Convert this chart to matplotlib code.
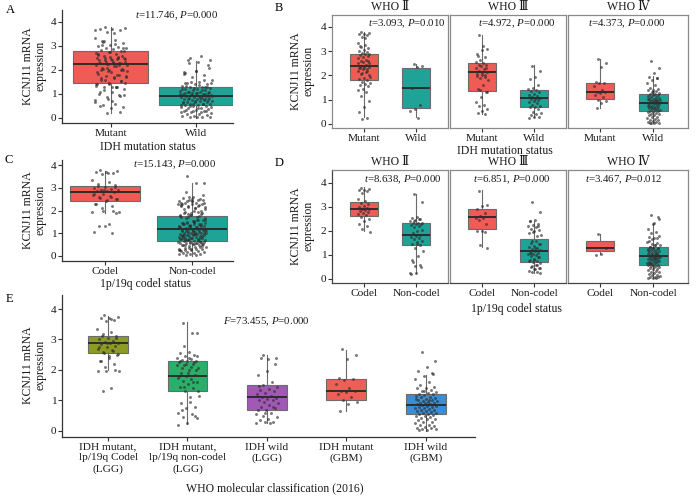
import numpy as np
import matplotlib
matplotlib.use("Agg")
import matplotlib.pyplot as plt

plt.rcParams['font.family'] = ['Liberation Serif', 'DejaVu Serif']
plt.rcParams['mathtext.fontset'] = 'custom'
plt.rcParams['mathtext.rm'] = 'Liberation Serif'
plt.rcParams['mathtext.it'] = 'Liberation Serif:italic'

# ---------------- data (KCNJ11 mRNA expression) ----------------
idh_cats = ["Mutant", "Wild"]
codel_cats = ["Codel", "Non-codel"]
grades = ["WHO \u2161", "WHO \u2162", "WHO \u2163"]
e_cats = ["IDH mutant,\nlp/19q Codel\n(LGG)", "IDH mutant,\nlp/19q non-codel\n(LGG)",
          "IDH wild\n(LGG)", "IDH mutant\n(GBM)", "IDH wild\n(GBM)"]

g2_codel = [3.8, 3.75, 3.72, 3.7, 3.65, 3.6, 3.35, 3.25, 3.18, 3.12, 3.05, 3.0, 2.95, 2.92,
            2.9, 2.88, 2.85, 2.8, 2.75, 2.7, 2.65, 2.6, 2.5, 2.4, 2.3, 2.2, 2.1, 1.95]
g2_mut_noncodel = [3.55, 3.2, 2.6, 2.55, 2.5, 2.45, 2.4, 2.35, 2.32, 2.3, 2.28, 2.25, 2.2, 2.15,
                   2.05, 2.0, 1.9, 1.85, 1.8, 1.75, 1.7, 1.65, 1.6, 1.55, 1.45, 1.4, 1.3, 1.15,
                   0.95, 0.7, 0.5, 0.25, 0.2]
g2_wild = [2.48, 2.4, 2.35, 1.47, 0.8, 0.6, 0.55, 0.25]
g3_codel = [3.68, 3.1, 3.05, 2.9, 2.75, 2.62, 2.55, 2.52, 2.45, 2.3, 2.0, 1.98, 1.95, 1.4, 1.3]
g3_mut_noncodel = [3.2, 2.8, 2.45, 2.4, 2.3, 2.25, 2.2, 2.15, 2.1, 2.05, 2.0, 1.9, 1.8, 1.6,
                   1.45, 1.3, 1.1, 0.9, 0.8, 0.75, 0.6, 0.55, 0.45, 0.42]
g3_wild = [2.4, 2.2, 1.95, 1.85, 1.6, 1.5, 1.45, 1.38, 1.35, 1.3, 1.25, 1.2, 1.15, 1.1, 1.08,
           1.05, 1.02, 1.0, 0.95, 0.9, 0.85, 0.8, 0.75, 0.7, 0.68, 0.6, 0.5, 0.45, 0.4, 0.35,
           0.3, 0.28, 0.25]
g4_mut = [2.68, 2.5, 2.35, 1.75, 1.7, 1.68, 1.55, 1.4, 1.32, 1.3, 1.28, 1.2, 1.1, 1.0, 0.95,
          0.88, 0.65]
g4_codel = [1.88, 1.3, 1.05, 1.0]
g4_wild = [2.6, 2.3, 2.1, 1.95, 1.9, 1.8, 1.7, 1.6, 1.5, 1.45, 1.42, 1.4, 1.35, 1.3, 1.28, 1.25,
           1.22, 1.2, 1.18, 1.15, 1.12, 1.1, 1.08, 1.05, 1.02, 1.0, 0.98, 0.97, 0.95, 0.93, 0.92,
           0.9, 0.88, 0.87, 0.85, 0.83, 0.82, 0.8, 0.78, 0.76, 0.75, 0.72, 0.7, 0.68, 0.66, 0.65,
           0.62, 0.6, 0.58, 0.57, 0.55, 0.52, 0.5, 0.48, 0.45, 0.42, 0.4, 0.38, 0.35, 0.3, 0.28,
           0.25, 0.2, 0.18, 0.15, 0.12, 0.1, 0.08, 0.06, 0.05, 0.04, 0.03]

# box statistics: [whisker low, Q1, median, Q3, whisker high]
A_box = [[0.20, 1.45, 2.23, 2.79, 3.79], [0.00, 0.55, 0.92, 1.31, 2.37]]
C_box = [[1.89, 2.44, 2.81, 3.10, 3.77], [0.00, 0.65, 1.19, 1.74, 3.23]]
B_box = [[[0.27, 1.81, 2.40, 2.90, 3.79], [0.30, 0.64, 1.47, 2.32, 2.49]],
         [[0.40, 1.37, 2.15, 2.52, 3.66], [0.30, 0.68, 1.08, 1.40, 2.42]],
         [[0.64, 1.01, 1.30, 1.70, 2.66], [0.03, 0.54, 0.85, 1.22, 1.97]]]
D_box = [[[1.99, 2.64, 2.93, 3.19, 3.82], [0.25, 1.40, 1.85, 2.33, 3.54]],
         [[1.32, 2.10, 2.57, 2.92, 3.69], [0.25, 0.69, 1.18, 1.67, 2.40]],
         [[1.04, 1.15, 1.29, 1.60, 1.89], [0.04, 0.57, 0.97, 1.32, 2.33]]]
E_box = [[1.99, 2.56, 2.89, 3.10, 3.76], [0.24, 1.32, 1.79, 2.31, 3.56],
         [0.26, 0.70, 1.11, 1.52, 2.48], [0.64, 1.03, 1.32, 1.71, 2.67],
         [0.00, 0.54, 0.86, 1.22, 1.85]]

A_t, A_p = 11.746, 0.000
C_t, C_p = 15.143, 0.000
B_t, B_p = [3.093, 4.972, 4.373], [0.010, 0.000, 0.000]
D_t, D_p = [8.638, 6.851, 3.467], [0.000, 0.000, 0.012]
E_F, E_p = 73.455, 0.000

# groups assembled from the sub-groups
B_pts = [[g2_codel + g2_mut_noncodel, g2_wild],
         [g3_codel + g3_mut_noncodel, g3_wild],
         [g4_mut, g4_wild + g4_codel]]
D_pts = [[g2_codel, g2_mut_noncodel + g2_wild],
         [g3_codel, g3_mut_noncodel + g3_wild],
         [g4_codel, g4_mut + g4_wild]]
A_pts = [B_pts[0][0] + B_pts[1][0] + B_pts[2][0], B_pts[0][1] + B_pts[1][1] + B_pts[2][1]]
C_pts = [D_pts[0][0] + D_pts[1][0] + D_pts[2][0], D_pts[0][1] + D_pts[1][1] + D_pts[2][1]]
E_pts = [g2_codel + g3_codel, g2_mut_noncodel + g3_mut_noncodel, g2_wild + g3_wild,
         g4_mut, g4_wild + g4_codel]

RED, TEAL = "#EF5B55", "#1FA396"
E_colors = ["#8C9A26", "#2BAE6A", "#A259B5", "#EF5F58", "#3C8DD2"]

# ---------------- figure ----------------
W, H = 700, 497
fig = plt.figure(figsize=(7, 4.97), dpi=100)


def add_ax(l, t, r, b):
    return fig.add_axes([l / W, 1 - b / H, (r - l) / W, (b - t) / H])


def ftext(x, y, s, **kw):
    fig.text(x / W, 1 - y / H, s, **kw)


def draw_group(ax, pos, pts, st, color, width, jw):
    stats = [dict(whislo=st[0], q1=st[1], med=st[2], q3=st[3], whishi=st[4])]
    ax.bxp(stats, positions=[pos], widths=width, patch_artist=True, showfliers=False,
           showcaps=False,
           boxprops=dict(facecolor=color, edgecolor='#6b6b6b', linewidth=0.8),
           whiskerprops=dict(color='#6b6b6b', linewidth=0.8),
           medianprops=dict(color='#262626', linewidth=1.3), zorder=2)
    v = np.asarray(pts, dtype=float)
    n = len(v)
    off = ((np.arange(n) * 0.618034 + 0.31) % 1.0 - 0.5) * 2 * jw
    ax.plot(pos + off, v, 'o', ms=2.1, color='#2e2e2e', alpha=0.65, mec='none', zorder=3)


TICK = dict(length=3, width=0.8, color='#333333', pad=1.0, labelsize=8.2, labelcolor='#1a1a1a')


def classic(ax, ylim, xlim):
    ax.set_ylim(*ylim)
    ax.set_xlim(*xlim)
    for s in ['top', 'right']:
        ax.spines[s].set_visible(False)
    for s in ['left', 'bottom']:
        ax.spines[s].set_color('#333333')
        ax.spines[s].set_linewidth(0.9)
    ax.set_yticks([0, 1, 2, 3, 4])
    ax.tick_params(**TICK)
    ax.set_facecolor('none')


def stat_text(sym, v, p):
    return r"$\it{%s}$=%.3f, $\it{P}$=%.3f" % (sym, v, p)


TXT = dict(fontsize=7.8, color='#1a1a1a', ha='center', va='center')
LBL = dict(fontsize=8.5, color='#1a1a1a', ha='center', va='center')
YLBL = "KCNJ11 mRNA\nexpression"

# ---- Panel A ----
axA = add_ax(62, 10, 233, 123)
classic(axA, (-0.21, 4.5), (0.43, 2.43))
for i in range(2):
    draw_group(axA, i + 1, A_pts[i], A_box[i], [RED, TEAL][i], 0.88, 0.19)
axA.set_xticks([1, 2])
axA.set_xticklabels(idh_cats)
ftext(177, 16, stat_text('t', A_t, A_p), **TXT)
ftext(148, 146.5, "IDH mutation status", **LBL)
ftext(34, 66, YLBL, rotation=90, linespacing=1.05, **LBL)
ftext(10, 10, "A", fontsize=9, ha='center', va='center')

# ---- Panel C ----
axC = add_ax(62, 160, 233, 261)
classic(axC, (-0.24, 4.24), (0.506, 2.47))
for i in range(2):
    draw_group(axC, i + 1, C_pts[i], C_box[i], [RED, TEAL][i], 0.8, 0.16)
axC.set_xticks([1, 2])
axC.set_xticklabels(codel_cats)
ftext(175, 165, stat_text('t', C_t, C_p), **TXT)
ftext(145, 283.5, "1p/19q codel status", **LBL)
ftext(34, 210, YLBL, rotation=90, linespacing=1.05, **LBL)
ftext(9, 160, "C", fontsize=9, ha='center', va='center')

# ---- Facet panels B and D ----
facet_x = [(332, 448), (450, 566), (568, 688)]
facet_xlim = [(0.4, 2.6), (0.4, 2.6), (0.39, 2.65)]
B_tx = [407, 517, 627]
D_tx = [403, 512, 624]


def facet_panel(top, bottom, ylim, pts, boxes, cats, tvals, pvals, tx, ty, dark_bottom):
    for k, (l, r) in enumerate(facet_x):
        ax = add_ax(l, top, r, bottom)
        ax.set_ylim(*ylim)
        ax.set_xlim(*facet_xlim[k])
        for s in ax.spines.values():
            s.set_color('#8a8a8a')
            s.set_linewidth(0.9)
        if dark_bottom:
            ax.spines['bottom'].set_color('#444444')
            if k == 0:
                ax.spines['left'].set_color('#444444')
        for i in range(2):
            draw_group(ax, i + 1, pts[k][i], boxes[k][i], [RED, TEAL][i], 0.53, 0.12)
        ax.set_xticks([1, 2])
        ax.set_xticklabels(cats)
        ax.set_yticks([0, 1, 2, 3, 4])
        ax.tick_params(**TICK)
        if k > 0:
            ax.tick_params(axis='y', left=False, labelleft=False)
        ax.set_facecolor('none')
        ftext(tx[k], ty, stat_text('t', tvals[k], pvals[k]), **TXT)
        ftext((l + r) / 2, top - 8, grades[k], fontsize=8.5, color='#1a1a1a',
              ha='center', va='center')


facet_panel(15, 128, (-0.165, 4.49), B_pts, B_box, idh_cats, B_t, B_p, B_tx, 24, False)
ftext(505, 151, "IDH mutation status", **LBL)
ftext(302, 71, YLBL, rotation=90, linespacing=1.05, **LBL)
ftext(279, 8, "B", fontsize=9, ha='center', va='center')

facet_panel(170, 283, (-0.17, 4.54), D_pts, D_box, codel_cats, D_t, D_p, D_tx, 180, True)
ftext(516, 309, "1p/19q codel status", **LBL)
ftext(302, 226, YLBL, rotation=90, linespacing=1.05, **LBL)
ftext(279, 163, "D", fontsize=9, ha='center', va='center')

# ---- Panel E ----
axE = add_ax(62, 295, 475, 437)
classic(axE, (-0.2, 4.46), (0.42, 5.62))
for i in range(5):
    draw_group(axE, i + 1, E_pts[i], E_box[i], E_colors[i], 0.5, 0.14)
axE.set_xticks([1, 2, 3, 4, 5])
axE.set_xticklabels(e_cats, fontsize=8.2, linespacing=1.25, va='top')
ftext(266, 322, stat_text('F', E_F, E_p), **TXT)
ftext(275, 488, "WHO molecular classification (2016)", **LBL)
ftext(34, 365, YLBL, rotation=90, linespacing=1.05, **LBL)
ftext(9, 299, "E", fontsize=9, ha='center', va='center')

fig.savefig("out.png", dpi=100, facecolor='white')
